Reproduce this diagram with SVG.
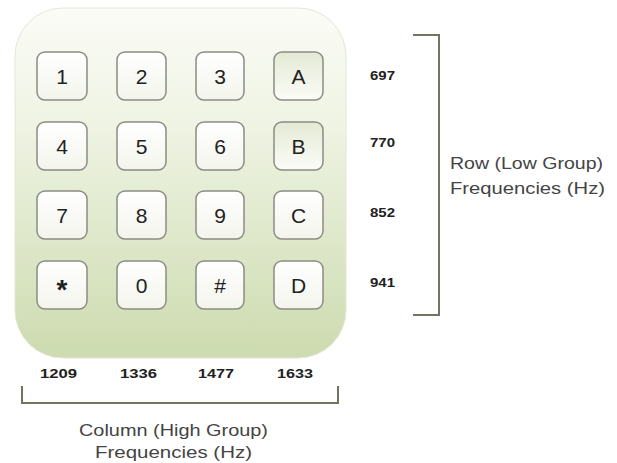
<svg xmlns="http://www.w3.org/2000/svg" width="617" height="463" viewBox="0 0 617 463">
<defs>
<linearGradient id="bodyG" x1="0" y1="0" x2="0" y2="1">
<stop offset="0" stop-color="#fbfcf7"/>
<stop offset="0.35" stop-color="#eef3e2"/>
<stop offset="1" stop-color="#cddbaf"/>
</linearGradient>
<linearGradient id="keyG" x1="0" y1="0" x2="0" y2="1">
<stop offset="0" stop-color="#ffffff"/>
<stop offset="1" stop-color="#f3f5ec"/>
</linearGradient>
<linearGradient id="keyG2" x1="0" y1="0" x2="0" y2="1">
<stop offset="0" stop-color="#e4ead5"/>
<stop offset="1" stop-color="#fbfcf7"/>
</linearGradient>
<style>
.key rect{fill:url(#keyG);stroke:#8c8c84;stroke-width:1.5}
.key.alt rect{fill:url(#keyG2)}
.key text{font-family:"Liberation Sans",Arial,sans-serif;font-size:21px;fill:#222;text-anchor:middle}
.freq{font-family:"Liberation Sans",Arial,sans-serif;font-size:13px;font-weight:bold;fill:#222}
.lbl{font-family:"Liberation Sans",Arial,sans-serif;font-size:17px;fill:#444}
.br{fill:none;stroke:#6f7560;stroke-width:2}
</style>
</defs>
<rect id="body" x="15" y="8" width="331" height="350" rx="48" fill="url(#bodyG)" stroke="#e3e8d6" stroke-width="1"/>
<g id="k1" class="key"><rect x="37" y="52" width="50" height="48" rx="8"/><text x="62" y="83.5">1</text></g>
<g id="k2" class="key"><rect x="117" y="52" width="49" height="48" rx="8"/><text x="141.5" y="83.5">2</text></g>
<g id="k3" class="key"><rect x="196" y="52" width="48" height="48" rx="8"/><text x="220" y="83.5">3</text></g>
<g id="kA" class="key alt"><rect x="274" y="52" width="49" height="48" rx="8"/><text x="298.5" y="83.5">A</text></g>
<g id="k4" class="key"><rect x="37" y="122" width="50" height="48" rx="8"/><text x="62" y="153.5">4</text></g>
<g id="k5" class="key"><rect x="117" y="122" width="49" height="48" rx="8"/><text x="141.5" y="153.5">5</text></g>
<g id="k6" class="key"><rect x="196" y="122" width="48" height="48" rx="8"/><text x="220" y="153.5">6</text></g>
<g id="kB" class="key alt"><rect x="274" y="122" width="49" height="48" rx="8"/><text x="298.5" y="153.5">B</text></g>
<g id="k7" class="key"><rect x="37" y="191" width="50" height="48" rx="8"/><text x="62" y="222.5">7</text></g>
<g id="k8" class="key"><rect x="117" y="191" width="49" height="48" rx="8"/><text x="141.5" y="222.5">8</text></g>
<g id="k9" class="key"><rect x="196" y="191" width="48" height="48" rx="8"/><text x="220" y="222.5">9</text></g>
<g id="kC" class="key"><rect x="274" y="191" width="49" height="48" rx="8"/><text x="298.5" y="222.5">C</text></g>
<g id="kStar" class="key"><rect x="37" y="261" width="50" height="48" rx="8"/><text x="62" y="299" style="font-size:28px;font-weight:bold">*</text></g>
<g id="k0" class="key"><rect x="117" y="261" width="49" height="48" rx="8"/><text x="141.5" y="292.5">0</text></g>
<g id="kHash" class="key"><rect x="196" y="261" width="48" height="48" rx="8"/><text x="220" y="292.5">#</text></g>
<g id="kD" class="key"><rect x="274" y="261" width="49" height="48" rx="8"/><text x="298.5" y="292.5">D</text></g>
<g id="rowFreqs">
<text class="freq" x="370" y="80" textLength="25" lengthAdjust="spacingAndGlyphs">697</text>
<text class="freq" x="370" y="147" textLength="25" lengthAdjust="spacingAndGlyphs">770</text>
<text class="freq" x="370" y="217" textLength="25" lengthAdjust="spacingAndGlyphs">852</text>
<text class="freq" x="370" y="287" textLength="25" lengthAdjust="spacingAndGlyphs">941</text>
</g>
<g id="colFreqs">
<text class="freq" x="40" y="378" textLength="37" lengthAdjust="spacingAndGlyphs">1209</text>
<text class="freq" x="120" y="378" textLength="37" lengthAdjust="spacingAndGlyphs">1336</text>
<text class="freq" x="198" y="378" textLength="36" lengthAdjust="spacingAndGlyphs">1477</text>
<text class="freq" x="277" y="378" textLength="36" lengthAdjust="spacingAndGlyphs">1633</text>
</g>
<g id="connectors">
<path class="br" d="M413,35 H439 V315 H413"/>
<path class="br" d="M22,386 V403 H338 V386"/>
</g>
<g id="rowLabel">
<text class="lbl" x="450" y="169" textLength="153" lengthAdjust="spacingAndGlyphs">Row (Low Group)</text>
<text class="lbl" x="450" y="194" textLength="155" lengthAdjust="spacingAndGlyphs">Frequencies (Hz)</text>
</g>
<g id="colLabel">
<text class="lbl" x="79" y="436" textLength="189" lengthAdjust="spacingAndGlyphs">Column (High Group)</text>
<text class="lbl" x="95" y="458" textLength="157" lengthAdjust="spacingAndGlyphs">Frequencies (Hz)</text>
</g>
</svg>
